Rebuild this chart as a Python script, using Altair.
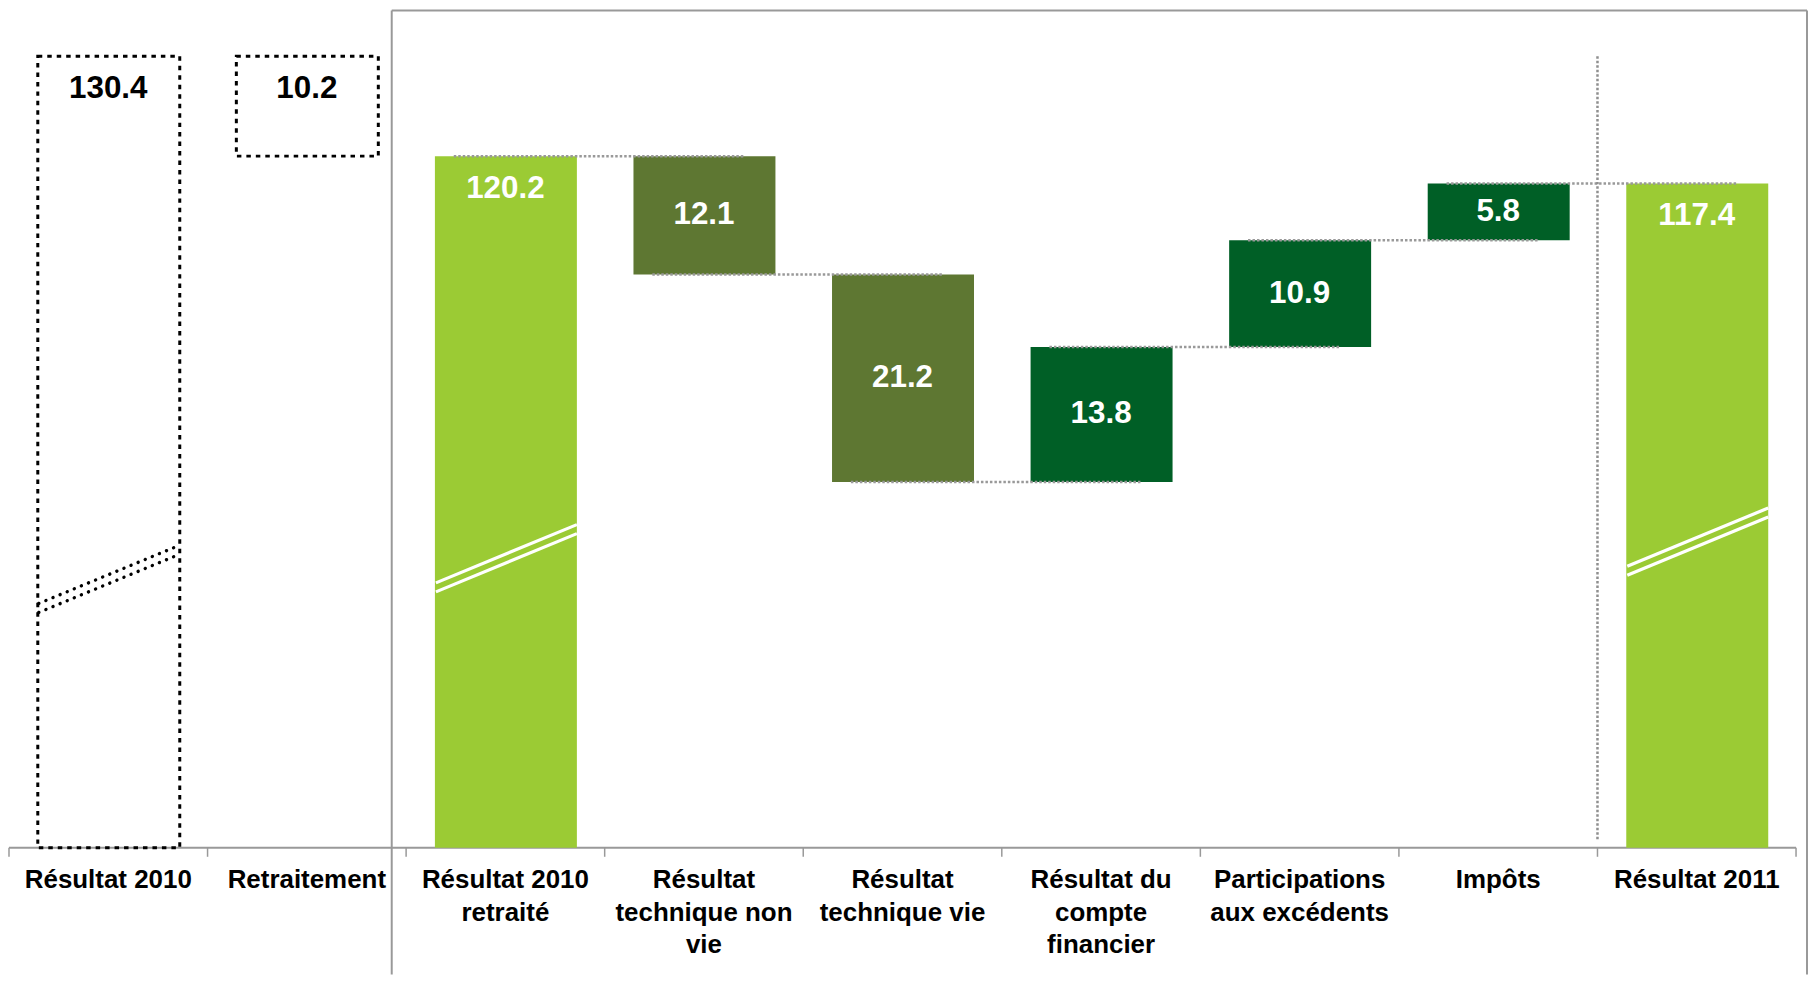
import altair as alt
import pandas as pd

# ---------------- data ----------------
categories = [
    "Résultat 2010",
    "Retraitement",
    "Résultat 2010|retraité",
    "Résultat|technique non|vie",
    "Résultat|technique vie",
    "Résultat du|compte|financier",
    "Participations|aux excédents",
    "Impôts",
    "Résultat 2011",
]
values = [130.4, 10.2, 120.2, 12.1, 21.2, 13.8, 10.9, 5.8, 117.4]
steps = ["reference", "delta_ref", "total", "down", "down", "up", "up", "up", "total"]

# axis-break symbols (category index, value at the left end of the upper stroke)
break_cats = [0, 2, 8]
break_levels = [74.5, 76.6, 78.3]

# ---------------- layout constants ----------------
Y_MIN, Y_MAX = 49.53, 135.17
W, H = 1793, 841
PX = (Y_MAX - Y_MIN) / H          # value units per pixel
BAR_L, BAR_R = 0.145, 0.86
FONT = "Liberation Sans"
GRAY = "#999999"

FILLS = {"total": "#9bcb34", "down": "#5e7732", "up": "#005f26"}

rows = []
running = 0.0
for i, (v, s) in enumerate(zip(values, steps)):
    if s in ("reference", "total"):
        lo, hi = Y_MIN, v
        running = v
    elif s in ("delta_ref", "down"):
        hi = running
        lo = running - v
        running = lo
    else:
        lo = running
        hi = running + v
        running = hi
    rows.append(dict(
        i=i, x0=i + BAR_L, x1=i + BAR_R, xc=i + 0.5,
        lo=lo, hi=hi, mid=(lo + hi) / 2, end=running,
        label=f"{v:.1f}", step=s, cat=categories[i],
        fill=FILLS.get(s, "transparent"),
        tcol="black" if s in ("reference", "delta_ref") else "white",
        boxed=s in ("reference", "delta_ref"),
        toplabel=s in ("reference", "delta_ref", "total"),
    ))
df = pd.DataFrame(rows)

# connectors between consecutive waterfall bars
conn = pd.DataFrame([
    dict(x0=i + 0.24, x1=i + 1.70, y=rows[i]["end"])
    for i in range(2, len(rows) - 1)
])

# break symbols: two parallel slanted strokes each
brk_rows = []
for c, lvl in zip(break_cats, break_levels):
    for k in range(2):
        brk_rows.append(dict(
            x0=c + 0.15, x1=c + 0.86,
            y0=lvl - 0.92 * k, y1=lvl + 5.95 - 0.92 * k,
            kind="dotted" if steps[c] == "reference" else "white",
        ))
brk = pd.DataFrame(brk_rows)

# category axis: baseline + boundary ticks
ticks = pd.DataFrame([dict(x=b, y0=Y_MIN, y1=Y_MIN - 9 * PX) for b in range(len(categories) + 1)])
baseline = pd.DataFrame([dict(x0=0, x1=len(categories), y=Y_MIN)])

divider = pd.DataFrame([dict(x=8, y0=values[0], y1=50.3)])

xs = alt.Scale(domain=[0, 9], nice=False, zero=False)
ys = alt.Scale(domain=[Y_MIN, Y_MAX], nice=False, zero=False)


def X(f):
    return alt.X(f, type="quantitative", scale=xs, axis=None)


def Y(f):
    return alt.Y(f, type="quantitative", scale=ys, axis=None)


base = alt.Chart(df)

frame_top = alt.Chart(divider).mark_rule(color=GRAY, strokeWidth=2).encode(
    x=alt.value(384), x2=alt.value(1804), y=alt.value(1))
frame_left = alt.Chart(divider).mark_rule(color=GRAY, strokeWidth=2).encode(
    x=alt.value(384), y=alt.value(1), y2=alt.value(968))
frame_right = alt.Chart(divider).mark_rule(color=GRAY, strokeWidth=2).encode(
    x=alt.value(1804), y=alt.value(1), y2=alt.value(968))

axis_line = alt.Chart(baseline).mark_rule(color=GRAY, strokeWidth=2).encode(
    x=X("x0"), x2="x1", y=Y("y"))
axis_ticks = alt.Chart(ticks).mark_rule(color=GRAY, strokeWidth=1.5).encode(
    x=X("x"), y=Y("y0"), y2="y1")
axis_labels = base.mark_text(
    font=FONT, fontWeight="bold", fontSize=26, baseline="top", align="center",
    lineBreak="|", lineHeight=33, dy=19, color="black"
).encode(x=X("xc"), y=alt.Y(datum=Y_MIN, scale=ys, axis=None), text="cat:N")

bars = base.transform_filter("!datum.boxed").mark_rect().encode(
    x=X("x0"), x2="x1", y=Y("lo"), y2="hi",
    fill=alt.Fill("fill:N", scale=None),
)

boxes = base.transform_filter("datum.boxed").mark_rect(
    fill="transparent", stroke="black", strokeWidth=3, strokeDash=[4.5, 5]
).encode(x=X("x0"), x2="x1", y=Y("lo"), y2="hi")

connectors = alt.Chart(conn).mark_rule(
    color=GRAY, strokeWidth=2.5, strokeDash=[2.5, 2]
).encode(x=X("x0"), x2="x1", y=Y("y"))

div_line = alt.Chart(divider).mark_rule(
    color="#8f8f8f", strokeWidth=2.5, strokeDash=[2.5, 2]
).encode(x=X("x"), y=Y("y0"), y2="y1")

brk_white = alt.Chart(brk).transform_filter("datum.kind == 'white'").mark_rule(
    color="white", strokeWidth=3.2
).encode(x=X("x0"), x2="x1", y=Y("y0"), y2="y1")

brk_dot = alt.Chart(brk).transform_filter("datum.kind == 'dotted'").mark_rule(
    color="black", strokeWidth=3.4, strokeDash=[0.1, 7.6], strokeCap="round"
).encode(x=X("x0"), x2="x1", y=Y("y0"), y2="y1")

top_labels = base.transform_filter("datum.toplabel").mark_text(
    font=FONT, fontWeight="bold", fontSize=31.5, baseline="middle", align="center", dy=33
).encode(x=X("xc"), y=Y("hi"), text="label:N", color=alt.Color("tcol:N", scale=None))

mid_labels = base.transform_filter("!datum.toplabel").mark_text(
    font=FONT, fontWeight="bold", fontSize=31.5, baseline="middle", align="center"
).encode(x=X("xc"), y=Y("mid"), text="label:N", color=alt.Color("tcol:N", scale=None))

chart = alt.layer(
    frame_top, frame_left, frame_right, axis_line, axis_ticks, axis_labels,
    bars, boxes, connectors, div_line, brk_white, brk_dot, top_labels, mid_labels
).properties(
    width=W, height=H,
    padding={"left": 0, "top": 0, "right": 0, "bottom": 0},
).configure_view(stroke=None)

chart.save("out.html", embed_options={"renderer": "svg", "actions": False})
